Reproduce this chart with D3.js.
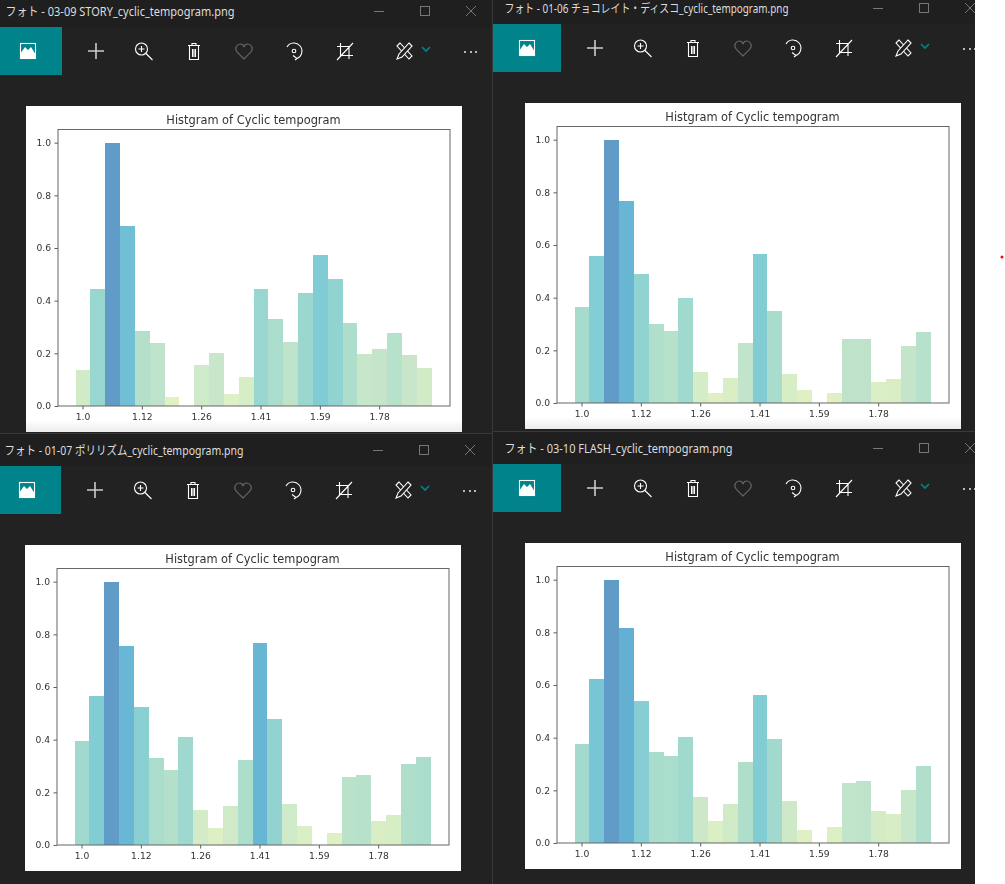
<!DOCTYPE html>
<html>
<head>
<meta charset="utf-8">
<script src="https://cdn.jsdelivr.net/npm/d3@7"></script>
<style>
html, body { margin: 0; padding: 0; background: #fff; }
svg { display: block; }
</style>
</head>
<body>
<div id="chart"></div>
<script>
// values, one array per window
var story = [0.136, 0.445, 1.0, 0.684, 0.285, 0.24, 0.034, 0, 0.156, 0.2, 0.047, 0.11, 0.444, 0.33, 0.243, 0.428, 0.575, 0.484, 0.316, 0.198, 0.218, 0.276, 0.195, 0.143];
var chocolate = [0.365, 0.558, 1.0, 0.768, 0.49, 0.30, 0.274, 0.397, 0.118, 0.038, 0.095, 0.226, 0.565, 0.35, 0.11, 0.049, 0, 0.038, 0.242, 0.242, 0.08, 0.091, 0.215, 0.27];
var polyrhythm = [0.394, 0.565, 1.0, 0.757, 0.525, 0.331, 0.285, 0.409, 0.133, 0.065, 0.148, 0.322, 0.767, 0.479, 0.156, 0.071, 0, 0.047, 0.259, 0.266, 0.091, 0.114, 0.307, 0.335];
var flash = [0.376, 0.624, 1.0, 0.816, 0.541, 0.347, 0.332, 0.402, 0.175, 0.084, 0.148, 0.307, 0.563, 0.394, 0.161, 0.048, 0, 0.061, 0.228, 0.236, 0.122, 0.109, 0.202, 0.293];

var tickLabels = ["1.0", "1.12", "1.26", "1.41", "1.59", "1.78"];
var yTicks = [0, 0.2, 0.4, 0.6, 0.8, 1.0];
var chartTitle = "Histgram of Cyclic tempogram";

var width = 1005, height = 884;
var teal = "#00838a";

var svg = d3.select("#chart").append("svg")
    .attr("width", width)
    .attr("height", height);

// soft fade at the bottom edge of the upper two images
var grad = svg.append("defs").append("linearGradient")
    .attr("id", "fade")
    .attr("x1", 0).attr("x2", 0).attr("y1", 0).attr("y2", 1);
grad.append("stop").attr("offset", "0%").attr("stop-color", "#fff");
grad.append("stop").attr("offset", "100%").attr("stop-color", "#ececec");

var color = d3.scaleLinear()
    .domain([0, 0.1, 0.2, 0.3, 0.45, 0.6, 0.8, 1])
    .range(["#e4f2c4", "#d8eec5", "#c8e6ca", "#b0dfcb", "#98d6d0", "#7bc9d5", "#63b2d4", "#619cc8"]);

// chart size inside a window
var plotW = 392, plotH = 276.5;

var x = d3.scaleBand()
    .domain(d3.range(story.length))
    .range([17.6, 373.6])
    .padding(0);

var y = d3.scaleLinear()
    .domain([0, 1.05])
    .range([plotH, 0]);

function drawIcons(g) {
    var icons = g.append("g").attr("fill", "none").attr("stroke", "#fff").attr("stroke-width", 1.1);

    // photo icon on the teal tile
    icons.append("rect").attr("x", 26.5).attr("y", 16.5).attr("width", 15).attr("height", 15);
    icons.append("path").attr("fill", "#fff").attr("stroke", "none")
        .attr("d", "M26 32 V27 L31 20 L34 23 L37 20 L42 28 V32 Z");

    // add
    icons.append("path").attr("stroke", "#ccc").attr("stroke-width", 1.6).attr("d", "M94 24 H110 M102 16 V32");

    // zoom in
    icons.append("circle").attr("cx", 147.5).attr("cy", 22).attr("r", 6);
    icons.append("path").attr("d", "M152 26.5 L158.5 33 M144.5 22 H150.5 M147.5 19 V25");

    // delete
    icons.append("path").attr("d", "M194 18.5 H206 M198 18 V16.5 H202 V18 M195.5 19 V32.5 H204.5 V19 M198.5 22 V30 M200 22 V30 M201.5 22 V30");

    // favourite, greyed out
    icons.append("path").attr("stroke", "#666")
        .attr("d", "M250 32 L243 25 C240 21 243 17 246.5 17 C248 17 249.5 18 250 20 C250.5 18 252 17 253.5 17 C257 17 260 21 257 25 Z");

    // rotate
    icons.append("path").attr("d", "M293 20 A8 8 0 1 1 303 31.4 M299 28.5 L303 31.5 L301 33");
    icons.append("circle").attr("cx", 300).attr("cy", 24).attr("r", 1.8);

    // crop
    icons.append("path").attr("d", "M343 19.5 H355 V32 M346.5 16 V28.5 H359 M343 33 L359 16");

    // edit: ruler under pencil
    icons.append("path").attr("d", "M406 16 L403 19 L415 32 L418 29 Z");
    icons.append("path").attr("fill", "#222").attr("d", "M415 16 L418 19 L408 30 L403 32 L405 27 Z");

    // chevron
    g.append("path").attr("fill", "none").attr("stroke", teal).attr("stroke-width", 1.6).attr("d", "M428 20 L432 24 L436 20");

    // more
    g.selectAll(".more")
        .data([471, 477, 482])
        .enter()
        .append("circle")
        .attr("class", "more")
        .attr("cx", function(d) { return d; })
        .attr("cy", 25)
        .attr("r", 0.9)
        .attr("fill", "#fff");

    // window controls
    var ctrl = g.append("g").attr("fill", "none").attr("stroke", "#777").attr("stroke-width", 1);
    ctrl.append("path").attr("d", "M380 -15.5 H390");
    ctrl.append("rect").attr("x", 426.5).attr("y", -20.5).attr("width", 9).attr("height", 9);
    ctrl.append("path").attr("d", "M472 -21 L482 -11 M482 -21 L472 -11");
}

function drawWindow(name, nameWidth, values, ox, oy, paneW, fade) {
    var g = svg.append("g").attr("transform", "translate(" + ox + "," + oy + ")");

    // window body
    g.append("rect").attr("x", 0).attr("y", -33).attr("width", paneW).attr("height", 500).attr("fill", "#222");
    g.append("rect").attr("x", 0).attr("y", -32).attr("width", paneW).attr("height", 32).attr("fill", "#1f1f1f");
    g.append("rect").attr("x", 0).attr("y", 0).attr("width", 68).attr("height", 48).attr("fill", teal);

    // the original UI font is narrower than anything installed
    g.append("text")
        .attr("x", 11.5)
        .attr("y", -11)
        .attr("fill", "#ddd")
        .attr("textLength", nameWidth)
        .attr("lengthAdjust", "spacingAndGlyphs")
        .style("font-family", "'Noto Sans', 'Noto Sans CJK JP', sans-serif")
        .style("font-size", "12px")
        .text(name);

    drawIcons(g);

    // picture
    g.append("rect").attr("x", 32).attr("y", 79).attr("width", 436).attr("height", 326).attr("fill", "#fff");
    if (fade) {
        g.append("rect").attr("x", 32).attr("y", 393).attr("width", 436).attr("height", 12).attr("fill", "url(#fade)");
    }

    var plot = g.append("g")
        .attr("transform", "translate(64,102.5)")
        .style("filter", "blur(0.3px)");

    plot.selectAll(".bar")
        .data(values)
        .enter()
        .append("rect")
        .attr("class", "bar")
        .attr("x", function(d, i) { return x(i); })
        .attr("y", function(d) { return y(d); })
        .attr("width", x.bandwidth())
        .attr("height", function(d) { return plotH - y(d); })
        .attr("fill", function(d) { return color(d); })
        .attr("shape-rendering", "crispEdges");

    var xAxis = plot.append("g")
        .attr("transform", "translate(0," + plotH + ")")
        .call(d3.axisBottom(x)
            .tickValues([0, 4, 8, 12, 16, 20])
            .tickFormat(function(d, i) { return tickLabels[i]; })
            .tickSize(3.5)
            .tickPadding(3.5));

    var yAxis = plot.append("g")
        .call(d3.axisLeft(y)
            .tickValues(yTicks)
            .tickFormat(d3.format(".1f"))
            .tickSize(3.5)
            .tickPadding(3.5));

    [xAxis, yAxis].forEach(function(axis) {
        axis.select(".domain").remove();
        axis.selectAll("text")
            .attr("fill", "#333")
            .style("font-family", "'DejaVu Sans', sans-serif")
            .style("font-size", "9.2px");
        axis.selectAll(".tick line").attr("stroke", "#333").attr("stroke-width", 0.8);
    });

    plot.append("rect")
        .attr("x", 0)
        .attr("y", 0)
        .attr("width", plotW)
        .attr("height", plotH)
        .attr("fill", "none")
        .attr("stroke", "#666")
        .attr("stroke-width", 1);

    plot.append("text")
        .attr("x", plotW / 2 - 0.5)
        .attr("y", -6)
        .attr("text-anchor", "middle")
        .attr("fill", "#333")
        .style("font-family", "'DejaVu Sans', sans-serif")
        .style("font-size", "11.4px")
        .text(chartTitle);
}

// left windows are cut off by the screen edge, right ones by the white strip
drawWindow("フォト - 03-09 STORY_cyclic_tempogram.png", 229, story, -6, 27, 498, true);
drawWindow("フォト - 01-07 ポリリズム_cyclic_tempogram.png", 239, polyrhythm, -7, 466, 499, false);
drawWindow("フォト - 01-06 チョコレイト・ディスコ_cyclic_tempogram.png", 284, chocolate, 493, 24, 512, true);
drawWindow("フォト - 03-10 FLASH_cyclic_tempogram.png", 228, flash, 493, 464, 512, false);

// separators between the windows
svg.append("path")
    .attr("fill", "none")
    .attr("stroke", "#3a3a3a")
    .attr("d", "M492.5 0 V884 M0 433.5 H492 M493 431.5 H975");

// white strip on the right with the stray red dot
svg.append("rect").attr("x", 975).attr("y", 0).attr("width", 30).attr("height", height).attr("fill", "#fff");
svg.append("circle").attr("cx", 1002).attr("cy", 257).attr("r", 1.5).attr("fill", "#e01010");
</script>
</body>
</html>
